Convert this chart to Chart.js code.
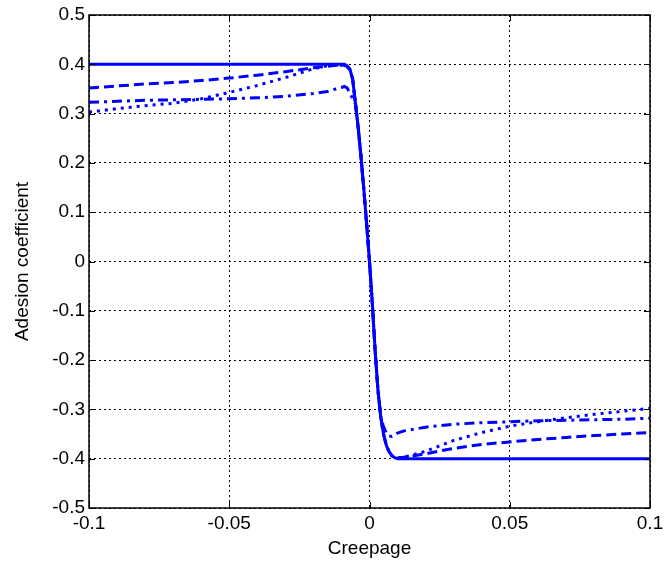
<!DOCTYPE html>
<html>
<head>
<meta charset="utf-8">
<script src="https://cdn.jsdelivr.net/npm/chart.js@4.4.0/dist/chart.umd.min.js"></script>
<style>
  html, body { margin: 0; padding: 0; background: #fff; }
</style>
</head>
<body>
<canvas id="chart" width="664" height="564"></canvas>
<script>
// creepage values (x), shared by every curve
const creepage = [-0.1, -0.09, -0.08, -0.07, -0.06, -0.05, -0.04, -0.03, -0.02, -0.015, -0.012, -0.01,
  -0.009, -0.008, -0.007, -0.006, -0.005, -0.004, -0.003, -0.002, -0.001, 0,
  0.001, 0.002, 0.003, 0.004, 0.005, 0.006, 0.007, 0.008, 0.009, 0.01,
  0.012, 0.015, 0.02, 0.03, 0.04, 0.05, 0.06, 0.07, 0.08, 0.09, 0.1];

const adhesionSolid = [0.4, 0.4, 0.4, 0.4, 0.4, 0.4, 0.4, 0.4, 0.4, 0.4, 0.4, 0.4,
  0.4, 0.397, 0.39, 0.37, 0.32, 0.27, 0.21, 0.145, 0.075, 0,
  -0.085, -0.18, -0.26, -0.315, -0.35, -0.373, -0.386, -0.394, -0.398, -0.4,
  -0.4, -0.4, -0.4, -0.4, -0.4, -0.4, -0.4, -0.4, -0.4, -0.4, -0.4];

const adhesionDashed = [0.352, 0.356, 0.36, 0.363, 0.367, 0.372, 0.378, 0.385, 0.393, 0.396, 0.398, 0.398,
  0.398, 0.396, 0.39, 0.37, 0.32, 0.27, 0.21, 0.145, 0.075, 0,
  -0.085, -0.18, -0.26, -0.315, -0.35, -0.373, -0.386, -0.394, -0.398, -0.398,
  -0.397, -0.395, -0.39, -0.379, -0.371, -0.366, -0.361, -0.357, -0.353, -0.35, -0.347];

const adhesionDotted = [0.303, 0.31, 0.316, 0.321, 0.33, 0.343, 0.357, 0.373, 0.391, 0.397, 0.398, 0.398,
  0.397, 0.395, 0.389, 0.37, 0.32, 0.27, 0.21, 0.145, 0.075, 0,
  -0.085, -0.18, -0.26, -0.315, -0.35, -0.373, -0.386, -0.394, -0.398, -0.398,
  -0.397, -0.393, -0.385, -0.363, -0.347, -0.334, -0.325, -0.317, -0.31, -0.304, -0.298];

const adhesionDashDot = [0.323, 0.325, 0.327, 0.328, 0.329, 0.33, 0.332, 0.335, 0.341, 0.345, 0.35, 0.353,
  0.355, 0.352, 0.342, 0.33, 0.32, 0.27, 0.21, 0.145, 0.075, 0,
  -0.085, -0.18, -0.26, -0.315, -0.335, -0.348, -0.354, -0.355, -0.352, -0.348,
  -0.344, -0.341, -0.336, -0.33, -0.327, -0.325, -0.323, -0.322, -0.321, -0.32, -0.318];

const xTicks = [-0.1, -0.05, 0, 0.05, 0.1];
const yTicks = [-0.5, -0.4, -0.3, -0.2, -0.1, 0, 0.1, 0.2, 0.3, 0.4, 0.5];

const FONT = 'Liberation Sans, Arial, sans-serif';
const pts = ys => creepage.map((x, i) => ({ x, y: ys[i] }));
const fmtTick = v => String(+v.toFixed(2));

function curve(ys, dash) {
  return {
    data: pts(ys),
    borderColor: '#0000ff',
    borderWidth: 3,
    borderDash: dash,
    pointRadius: 0,
    tension: 0,
    fill: false,
  };
}

// box round the plot plus inward tick marks, matlab style
const framePlugin = {
  id: 'frame',
  afterDraw(chart) {
    const { ctx, chartArea: a, scales } = chart;
    ctx.save();
    ctx.strokeStyle = '#000';
    ctx.lineWidth = 1;
    ctx.beginPath();
    xTicks.forEach(v => {
      const px = Math.round(scales.x.getPixelForValue(v)) + 0.5;
      ctx.moveTo(px, a.bottom); ctx.lineTo(px, a.bottom - 6);
      ctx.moveTo(px, a.top); ctx.lineTo(px, a.top + 6);
    });
    yTicks.forEach(v => {
      const py = Math.round(scales.y.getPixelForValue(v)) + 0.5;
      ctx.moveTo(a.left, py); ctx.lineTo(a.left + 6, py);
      ctx.moveTo(a.right, py); ctx.lineTo(a.right - 6, py);
    });
    ctx.stroke();
    ctx.lineWidth = 1.5;
    ctx.strokeRect(a.left, a.top, a.right - a.left, a.bottom - a.top);
    ctx.restore();
  }
};

new Chart(document.getElementById('chart'), {
  type: 'line',
  data: {
    datasets: [
      curve(adhesionSolid, []),
      curve(adhesionDashed, [10, 5]),
      curve(adhesionDotted, [3, 5]),
      curve(adhesionDashDot, [10, 5, 3, 5]),
    ],
  },
  options: {
    responsive: false,
    animation: false,
    devicePixelRatio: 1,
    layout: { padding: { top: 15, right: 14, left: 0, bottom: 0 } },
    plugins: { legend: { display: false }, tooltip: { enabled: false } },
    scales: {
      x: {
        type: 'linear',
        min: -0.1,
        max: 0.1,
        afterBuildTicks: s => { s.ticks = xTicks.map(value => ({ value })); },
        afterFit: s => { s.height = 56; s.paddingLeft = 0; s.paddingRight = 0; },
        grid: { color: '#000', lineWidth: 1, drawTicks: false },
        border: { display: false, dash: [2, 3] },
        ticks: { color: '#000', font: { family: FONT, size: 19 }, padding: 4, maxRotation: 0, callback: fmtTick },
        title: { display: true, text: 'Creepage', color: '#000', font: { family: FONT, size: 19 }, padding: { top: 0, bottom: 4 } },
      },
      y: {
        min: -0.5,
        max: 0.5,
        afterBuildTicks: s => { s.ticks = yTicks.map(value => ({ value })); },
        afterFit: s => { s.width = 89; s.paddingTop = 0; s.paddingBottom = 0; },
        grid: { color: '#000', lineWidth: 1, drawTicks: false },
        border: { display: false, dash: [2, 3] },
        ticks: { color: '#000', font: { family: FONT, size: 19 }, padding: 4, callback: fmtTick },
        title: { display: true, text: 'Adesion coefficient', color: '#000', font: { family: FONT, size: 19 }, padding: { top: 11, bottom: 0 } },
      },
    },
  },
  plugins: [framePlugin],
});
</script>
</body>
</html>
